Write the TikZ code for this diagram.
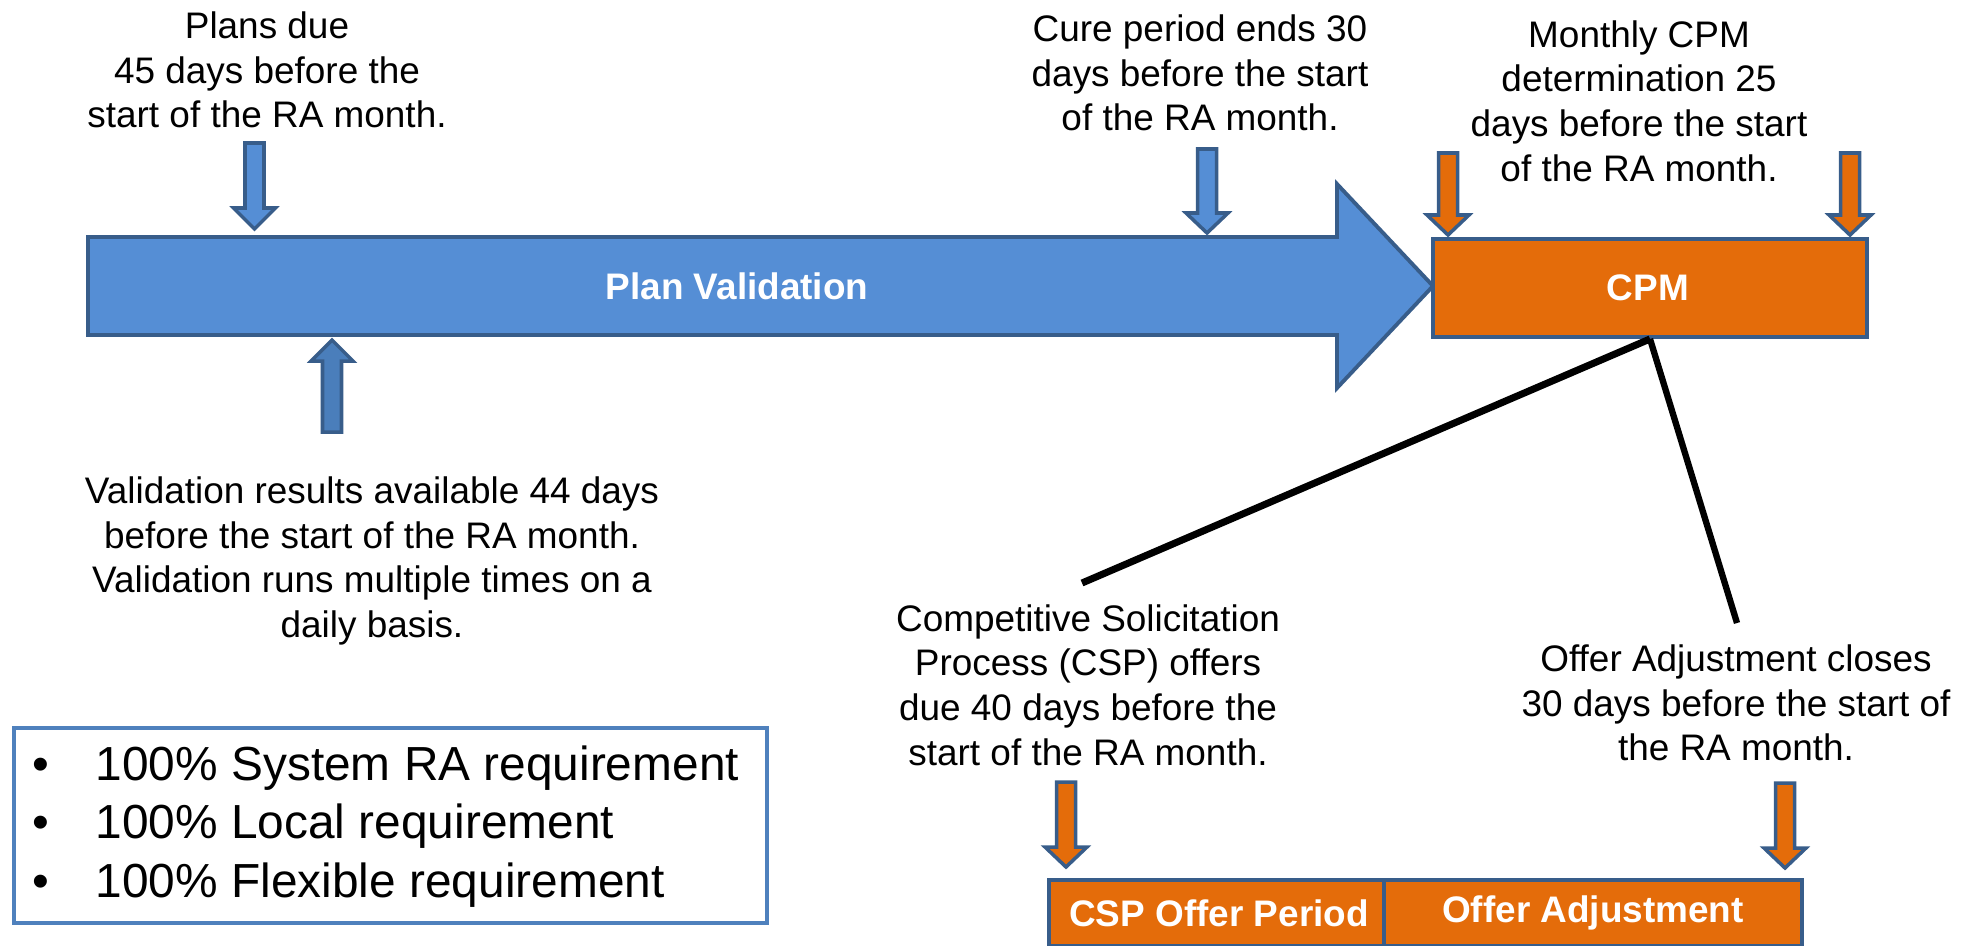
\documentclass[tikz,border=0pt]{standalone}
\usepackage{fontspec}
\setmainfont{Liberation Sans}
\definecolor{pvblue}{HTML}{558ED5}
\definecolor{bdblue}{HTML}{385D8A}
\definecolor{orng}{HTML}{E46C0A}
\definecolor{lgblue}{HTML}{4F81BD}
\definecolor{upblue}{HTML}{4A7EBB}
\newcommand\VBlockArrow[5]{%
  \draw[#5] ({#1-9.5},#2) -- ({#1+9.5},#2) -- ({#1+9.5},#3) -- ({#1+21},#3) -- (#1,#4) -- ({#1-21},#3) -- ({#1-9.5},#3) -- cycle;}
\tikzset{
  txt/.style={align=center, inner sep=0pt, font=\fontsize{10.5}{12.7}\selectfont},
  boxlabel/.style={inner sep=0pt, text=white, font=\fontsize{10.5}{12.7}\selectfont\bfseries},
  bluearr/.style={fill=pvblue, draw=bdblue, line width=1pt},
  uparr/.style={fill=upblue, draw=bdblue, line width=1pt},
  orarr/.style={fill=orng, draw=bdblue, line width=1pt},
  orbox/.style={fill=orng, draw=bdblue, line width=1.1pt, rectangle, inner sep=0pt},
  leader/.style={draw=black, line cap=butt}
}
\begin{document}
\begin{tikzpicture}[x=0.01cm,y=-0.01cm]
\useasboundingbox (0,0) rectangle (1964,945);
\clip (0,0) rectangle (1964,945);

% Plan Validation block arrow
\draw[fill=pvblue, draw=bdblue, line width=1.1pt, line join=miter]
  (88,237) -- (1337,237) -- (1337,184) -- (1433,286) -- (1337,388) -- (1337,335) -- (88,335) -- cycle;
\node[boxlabel] (pv) at (737,286) {Plan Validation};

% CPM box
\node[orbox, minimum width=4.34cm, minimum height=0.98cm] (cpm) at (1650,288) {};
\node[boxlabel] (cpmlbl) at (1648,288) {CPM};

% bottom boxes
\node[orbox, minimum width=3.35cm, minimum height=0.66cm] (cspbox) at (1216.5,913) {};
\node[orbox, minimum width=4.18cm, minimum height=0.66cm] (oabox) at (1593,913) {};
\node[boxlabel] (csplbl) at (1219,913) {CSP Offer Period};
\node[boxlabel] (oalbl) at (1593,913) {Offer Adjustment};

% block arrows
\VBlockArrow{254.5}{143}{208}{229}{bluearr}
\VBlockArrow{1207}{149}{213}{233}{bluearr}
\VBlockArrow{332}{432}{361}{340}{uparr}
\VBlockArrow{1448}{153}{215}{235}{orarr}
\VBlockArrow{1850}{153}{215}{235}{orarr}
\VBlockArrow{1066}{782}{847}{867}{orarr}
\VBlockArrow{1785}{783}{848}{868}{orarr}

% texts
\node[txt] (plans) at (267,70) {Plans due\\45 days before the\\start of the RA month.};
\node[txt] (cure) at (1200,73) {Cure period ends 30\\days before the start\\of the RA month.};
\node[txt] (monthly) at (1639,101) {Monthly CPM\\determination 25\\days before the start\\of the RA month.};
\node[txt] (valid) at (372,561) {Validation results available 44 days\\before the start of the RA month.\\Validation runs multiple times on a\\daily basis.};
\node[txt] (csp) at (1088,685) {Competitive Solicitation\\Process (CSP) offers\\due 40 days before the\\start of the RA month.};
\node[txt] (oa) at (1736,703) {Offer Adjustment closes\\30 days before the start of\\the RA month.};

% leader lines
\coordinate (cspend) at (1082,583);
\coordinate (oaend) at (1737,623);
\draw[leader, line width=2pt] (cpm.south) -- (cspend);
\draw[leader, line width=1.8pt] (cpm.south) -- (oaend);

% legend box
\node[draw=lgblue, line width=1.1pt, rectangle, minimum width=7.53cm, minimum height=1.95cm, inner sep=0pt] (legend) at (390.5,825.5) {};
\node[anchor=west, inner sep=0pt, font=\fontsize{13.6}{16.7}\selectfont] (legtext) at (32,827)
  {\begin{tabular}{@{}p{0.63cm}@{}l@{}}
   \textbullet & 100\% System RA requirement\\
   \textbullet & 100\% Local requirement\\
   \textbullet & 100\% Flexible requirement
   \end{tabular}};
\end{tikzpicture}
\end{document}
